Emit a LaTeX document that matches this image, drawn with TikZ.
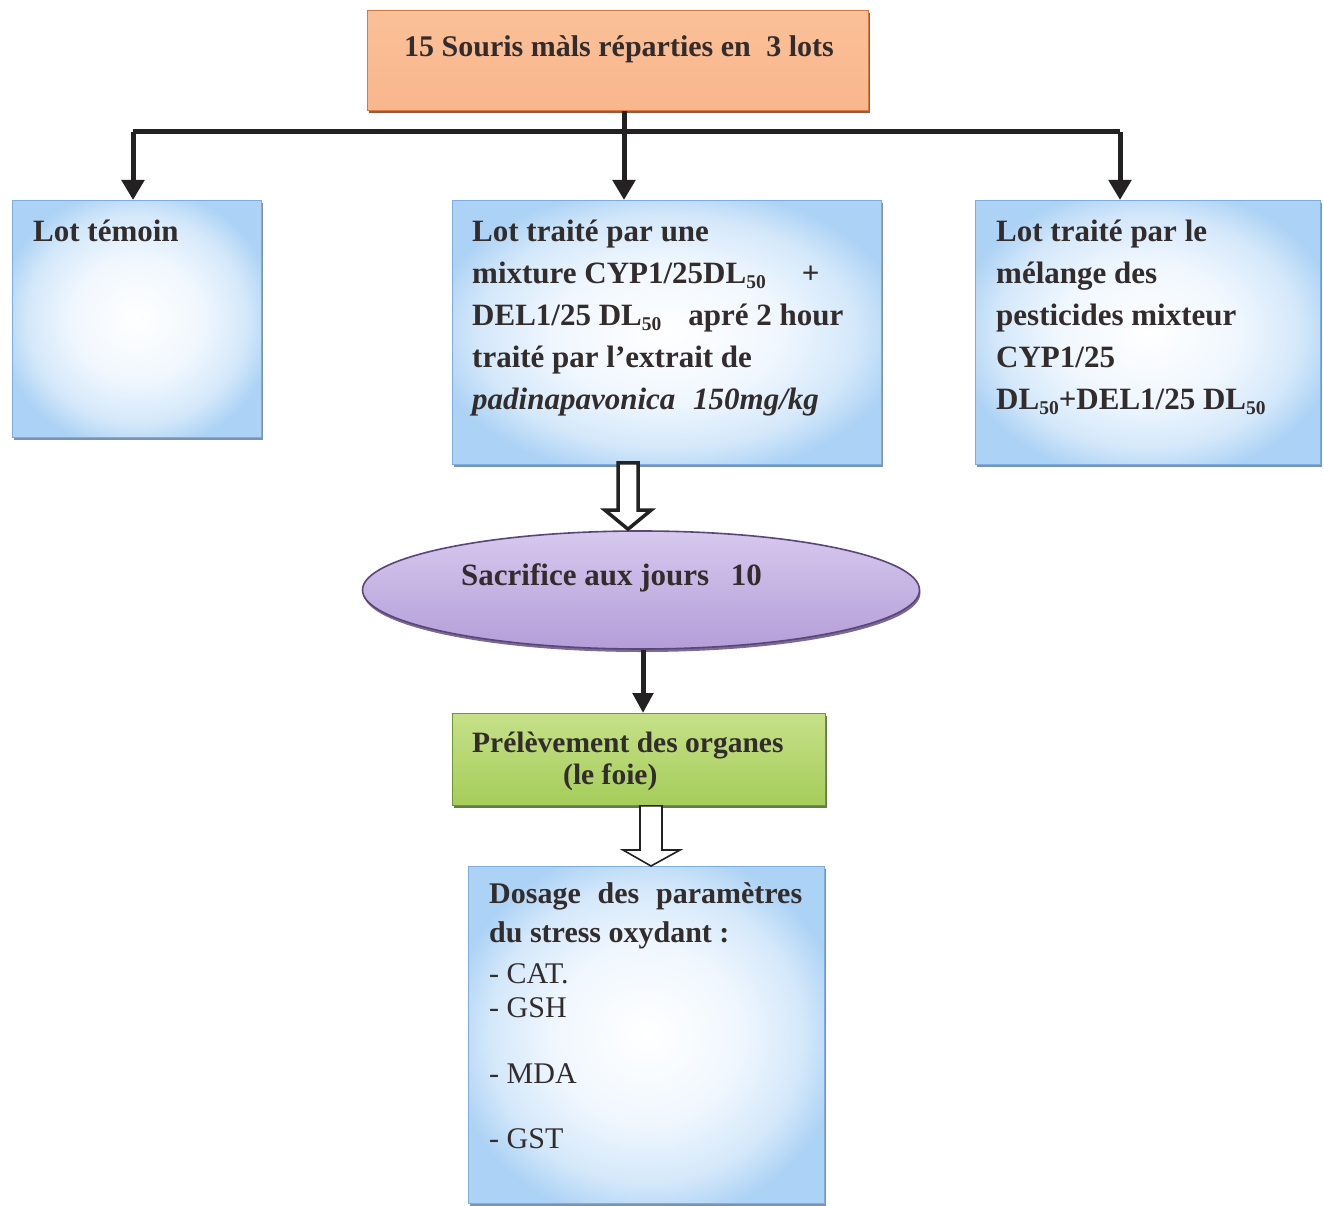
\documentclass[tikz,border=0pt]{standalone}
\usepackage{fontspec}
\setmainfont{Liberation Serif}
\usetikzlibrary{calc,shadows,arrows.meta,shapes.geometric}
\definecolor{ink}{RGB}{50,44,44}
\definecolor{paleblue}{RGB}{240,247,254}
\definecolor{midblue}{RGB}{212,232,250}
\definecolor{boxblue}{RGB}{172,210,245}
\definecolor{edgeblue}{RGB}{125,172,225}
\definecolor{shadblue}{RGB}{80,110,150}
\definecolor{orA}{RGB}{250,192,152}
\definecolor{orB}{RGB}{245,152,98}
\definecolor{orC}{RGB}{249,182,140}
\definecolor{oredge}{RGB}{214,120,70}
\definecolor{orshad}{RGB}{130,60,30}
\definecolor{lavA}{RGB}{214,200,238}
\definecolor{lavB}{RGB}{180,158,216}
\definecolor{lavedge}{RGB}{90,70,120}
\definecolor{grA}{RGB}{198,224,136}
\definecolor{grB}{RGB}{165,205,90}
\definecolor{gredge}{RGB}{110,150,50}
\definecolor{grshad}{RGB}{60,90,30}
\definecolor{conncol}{RGB}{35,33,33}
\pgfdeclareradialshading{boxshade}{\pgfpoint{0bp}{0bp}}{color(0bp)=(white); color(13bp)=(paleblue); color(22bp)=(midblue); color(28bp)=(boxblue); color(50bp)=(boxblue)}
\newcommand\lowsub[1]{\raisebox{-5pt}{\fontsize{19.5}{19.5}\selectfont #1}}
\begin{document}
\begin{tikzpicture}[x=1pt,y=-1pt,
  bluebox/.style={rectangle, draw=edgeblue, line width=0.8pt, shading=boxshade, inner sep=0pt, anchor=north west,
    drop shadow={shadow xshift=1.5pt, shadow yshift=-2.5pt, fill=shadblue, opacity=0.75}},
  topbox/.style={rectangle, draw=oredge, line width=0.8pt, top color=orA, middle color=orB, bottom color=orC, inner sep=0pt, anchor=north west,
    drop shadow={shadow xshift=2pt, shadow yshift=-3pt, fill=orshad, opacity=0.85}},
  greenbox/.style={rectangle, draw=gredge, line width=0.8pt, top color=grA, bottom color=grB, inner sep=0pt, anchor=north west,
    drop shadow={shadow xshift=2pt, shadow yshift=-3pt, fill=grshad, opacity=0.8}},
  lens/.style={ellipse, draw=lavedge, line width=1.6pt, top color=lavA, bottom color=lavB, inner sep=0pt,
    drop shadow={shadow xshift=1pt, shadow yshift=-3pt, fill=lavedge, opacity=0.8}},
  txt/.style={inner sep=0pt, anchor=north west, align=left, text=ink, font=\fontsize{31}{42}\selectfont\bfseries},
  conn/.style={draw=conncol, line width=5pt},
  connarrow/.style={conn, -{Triangle[width=22pt,length=20pt]}},
  hollow/.style={draw=conncol, fill=white, line join=miter}
]
\useasboundingbox (0,0) rectangle (1324,1206);
\fill[white] (0,0) rectangle (1324,1206);

% boxes
\node[topbox, minimum width=501, minimum height=100] (top) at (367,10) {};
\node[bluebox, minimum width=249, minimum height=237] (temoin) at (12,200) {};
\node[bluebox, minimum width=429, minimum height=264] (mid) at (452,200) {};
\node[bluebox, minimum width=345, minimum height=264] (rgt) at (975,200) {};
\node[lens, minimum width=557, minimum height=118] (ell) at (641,590) {};
\node[greenbox, minimum width=373, minimum height=92] (gre) at (452,713) {};
\node[bluebox, minimum width=356, minimum height=337] (dos) at (468,866) {};

% texts
\node[txt, font=\fontsize{30}{42}\selectfont\bfseries] (toptxt) at (404,34) {\rule{0pt}{22pt}15 Souris màls réparties en\hspace{8pt} 3 lots};
\node[txt] (temointxt) at (33,219) {\rule{0pt}{22pt}Lot témoin};
\node[txt] (midtxt) at (472,219) {\rule{0pt}{22pt}Lot traité par une\\
mixture CYP1/25DL\lowsub{50}\hspace{36pt}+\\
DEL1/25 DL\lowsub{50}\hspace{27pt}apré 2 hour\\
traité par l’extrait de\\
\textit{padinapavonica\hspace{10pt} 150mg/kg}};
\node[txt] (rgttxt) at (996,219) {\rule{0pt}{22pt}Lot traité par le\\
mélange des\\
pesticides mixteur\\
CYP1/25\\
DL\lowsub{50}+DEL1/25 DL\lowsub{50}};
\node[txt] (elltxt) at (461,563) {\rule{0pt}{22pt}Sacrifice aux jours\hspace{14pt} 10};
\node[txt, font=\fontsize{29.5}{32}\selectfont\bfseries] (gretxt) at (472,730) {\rule{0pt}{22pt}Prélèvement des organes\\
\hspace*{91pt}(le foie)};
\node[txt, font=\fontsize{30}{36}\selectfont] (dostxt) at (489,881) {\rule{0pt}{22pt}\makebox[313pt][s]{\bfseries Dosage des paramètres}\\[3pt]
\textbf{du stress oxydant :}\\[5pt]
- CAT.\\[-2pt]
- GSH\\[30pt]
- MDA\\[29pt]
- GST};

% connectors
\coordinate (split) at (624,132);
\coordinate (lsplit) at (133,132);
\coordinate (rsplit) at (1120,132);
\draw[conn] (top.south -| split) -- (split);
\draw[conn] (lsplit) -- (rsplit);
\draw[connarrow] (lsplit) -- (lsplit |- temoin.north);
\draw[connarrow] (split) -- (split |- mid.north);
\draw[connarrow] (rsplit) -- (rsplit |- rgt.north);

\coordinate (e2g) at (643,0);
\draw[conn, -{Triangle[width=20pt,length=20pt]}] (ell.south -| e2g) -- (gre.north -| e2g);

% hollow arrow mid -> ellipse
\coordinate (h1) at (628,0);
\draw[hollow, line width=3.5pt]
  ($(mid.south -| h1)+(-10,-2)$) -- ($(ell.north -| h1)+(-10,-20)$) -- ($(ell.north -| h1)+(-23,-20)$)
  -- ($(ell.north -| h1)+(0,-1)$) -- ($(ell.north -| h1)+(23,-20)$) -- ($(ell.north -| h1)+(10,-20)$)
  -- ($(mid.south -| h1)+(10,-2)$) -- cycle;

% hollow arrow green -> dosage
\coordinate (h2) at (651,0);
\draw[hollow, line width=1.6pt]
  ($(gre.south -| h2)+(-11,0)$) -- ($(dos.north -| h2)+(-11,-16)$) -- ($(dos.north -| h2)+(-28,-16)$)
  -- ($(dos.north -| h2)+(0,0)$) -- ($(dos.north -| h2)+(29,-16)$) -- ($(dos.north -| h2)+(11,-16)$)
  -- ($(gre.south -| h2)+(11,0)$) -- cycle;
\end{tikzpicture}
\end{document}
